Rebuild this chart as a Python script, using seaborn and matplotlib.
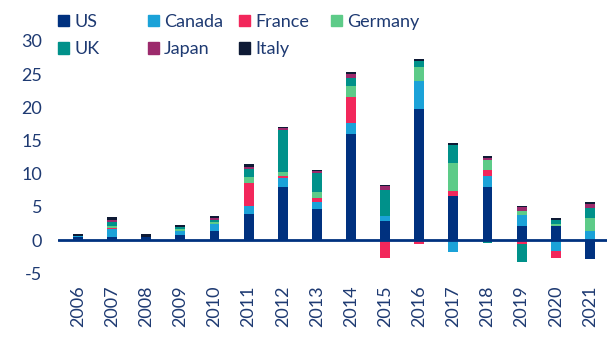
import numpy as np
import pandas as pd
import matplotlib
matplotlib.use("Agg")
import matplotlib.pyplot as plt
import seaborn as sns

years = [str(y) for y in range(2006, 2022)]
us      = [0.5, 0.5, 0.5, 0.85, 1.4, 3.9, 8.0, 4.7, 16.0, 2.85, 19.8, 6.7, 8.0, 2.2, 2.2, -2.9]
canada  = [0.1, 1.25, 0.0, 0.5, 1.0, 1.2, 1.4, 1.05, 1.6, 0.75, 4.2, -1.8, 1.65, 1.65, -1.65, 1.35]
france  = [0.0, 0.15, 0.0, 0.0, 0.1, 3.5, 0.2, 0.6, 3.9, -2.7, -0.65, 0.75, 0.9, -0.65, -1.1, 0.0]
germany = [0.0, 0.25, 0.0, 0.3, 0.3, 0.9, 0.65, 0.9, 1.75, 0.1, 2.0, 4.15, 1.5, 0.5, 0.3, 2.0]
uk      = [0.1, 0.65, 0.0, 0.3, 0.3, 1.25, 6.3, 2.8, 1.1, 3.9, 1.0, 2.8, -0.4, -2.65, 0.6, 1.5]
japan   = [0.0, 0.3, 0.0, 0.0, 0.2, 0.25, 0.35, 0.3, 0.6, 0.5, 0.0, 0.0, 0.35, 0.6, 0.0, 0.65]
italy   = [0.3, 0.35, 0.5, 0.35, 0.4, 0.4, 0.2, 0.25, 0.4, 0.25, 0.25, 0.25, 0.25, 0.25, 0.3, 0.2]

countries = ["US", "Canada", "France", "Germany", "UK", "Japan", "Italy"]
series = [us, canada, france, germany, uk, japan, italy]
colors = ["#00317F", "#1BA2D8", "#F2275B", "#5DCB88", "#00918A", "#9C2A6C", "#0E1A35"]
text_color = "#1E3A72"

sns.set_theme(style="white")
plt.rcParams["font.family"] = ["Lato", "DejaVu Sans"]

fig = plt.figure(figsize=(6.15, 3.39), dpi=100)
ax = fig.add_axes([0.0935, 0.174, 0.8935, 0.823])

pos_base = np.zeros(len(years))
neg_base = np.zeros(len(years))
handles = {}
for name, vals, col in zip(countries, series, colors):
    v = np.array(vals, dtype=float)
    bottom = np.where(v >= 0, pos_base, neg_base)
    df = pd.DataFrame({"year": years, "value": v})
    sns.barplot(data=df, x="year", y="value", order=years, bottom=bottom,
                color=col, saturation=1, width=0.29, errorbar=None,
                linewidth=0, edgecolor="none", ax=ax)
    pos_base = pos_base + np.where(v >= 0, v, 0)
    neg_base = neg_base + np.where(v < 0, v, 0)
    handles[name] = plt.Rectangle((0, 0), 1, 1, color=col)

ax.axhline(0, color="#00317F", lw=2.0, zorder=5)
ax.set_xlim(-0.6, 15.5)
ax.set_ylim(-6, 36)
ax.set_yticks([-5, 0, 5, 10, 15, 20, 25, 30])
ax.set_yticklabels(["-5", "0", "5", "10", "15", "20", "25", "30"])
ax.set_xlabel("")
ax.set_ylabel("")
for s in ax.spines.values():
    s.set_visible(False)
ax.tick_params(axis="both", length=0, colors=text_color, labelsize=13)
ax.tick_params(axis="y", pad=11)
ax.tick_params(axis="x", pad=4)
for lab in ax.get_xticklabels():
    lab.set_rotation(90)

# legend laid out as four fixed-width columns
columns = [["US", "UK"], ["Canada", "Japan"], ["France", "Italy"], ["Germany"]]
col_x = [58, 148, 239, 331]
for names, x0 in zip(columns, col_x):
    leg = fig.legend([handles[n] for n in names], names,
                     loc="upper left", bbox_to_anchor=(x0 / 615, 1 - 14 / 339),
                     frameon=False, fontsize=13, handlelength=0.6, handleheight=0.6,
                     handletextpad=0.3, labelspacing=0.62, borderpad=0, borderaxespad=0)
    for t in leg.get_texts():
        t.set_color(text_color)

fig.savefig("out.png", dpi=100)
